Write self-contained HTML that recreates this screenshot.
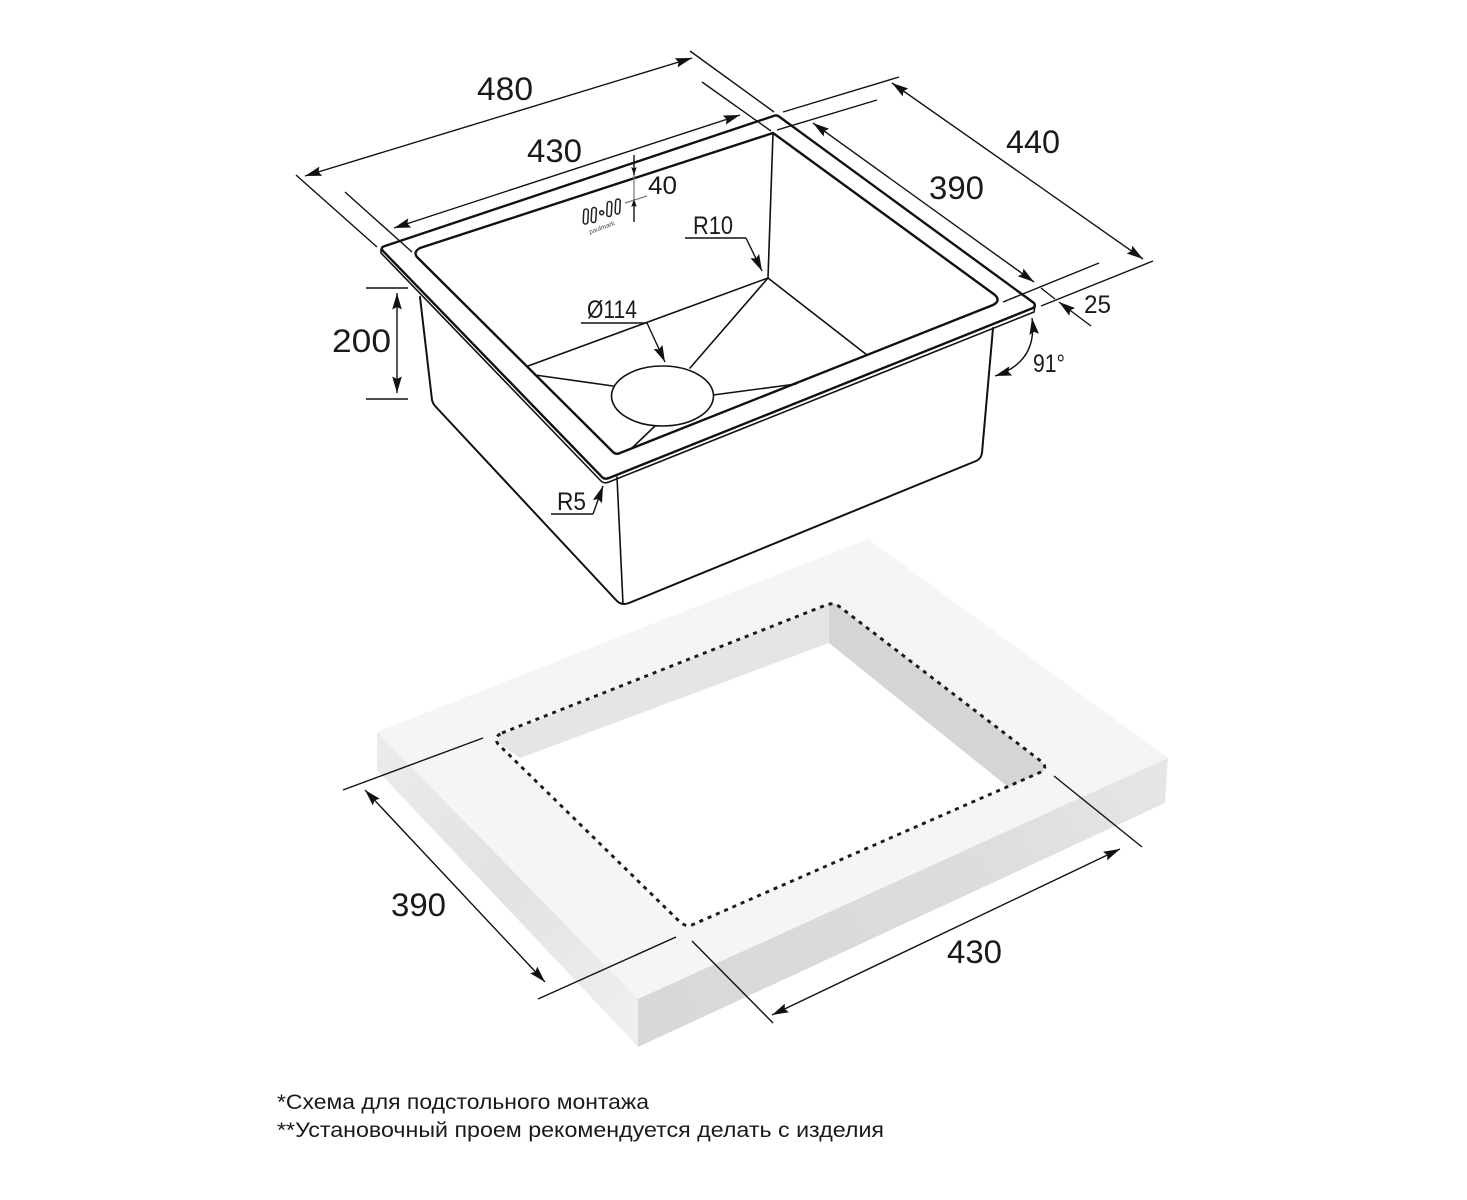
<!DOCTYPE html>
<html lang="ru">
<head>
<meta charset="utf-8">
<title>Sink diagram</title>
<style>
html,body{margin:0;padding:0;background:#fff;}
svg{display:block;}
text{font-family:"Liberation Sans","DejaVu Sans",sans-serif;fill:#1a1a1a;}
.big{font-size:32.5px;}
.mid{font-size:25px;}
.note{font-size:21px;}
.t{fill:none;stroke:#111;stroke-width:1.4;}
.b{fill:none;stroke:#111;stroke-width:2;stroke-linejoin:round;stroke-linecap:round;}
.r{fill:none;stroke:#111;stroke-width:2.4;stroke-linejoin:round;stroke-linecap:round;}
.m{fill:none;stroke:#111;stroke-width:1.6;stroke-linecap:round;}
.ar{marker-start:url(#a);marker-end:url(#a);}
.ae{marker-end:url(#a);}
.se{marker-end:url(#s);}
</style>
</head>
<body>
<svg width="1467" height="1200" viewBox="0 0 1467 1200" xmlns="http://www.w3.org/2000/svg">
<defs>
<marker id="a" markerUnits="userSpaceOnUse" viewBox="-18 -6 19 12" markerWidth="19" markerHeight="12" refX="0" refY="0" orient="auto-start-reverse"><path d="M0,0 L-16.5,-4.8 L-14,0 L-16.5,4.8 Z" fill="#111"/></marker>
<marker id="s" markerUnits="userSpaceOnUse" viewBox="-9 -4 10 8" markerWidth="10" markerHeight="8" refX="0" refY="0" orient="auto"><path d="M0,0 L-8,-2.8 L-6.5,0 L-8,2.8 Z" fill="#111"/></marker>
<linearGradient id="gf" gradientUnits="userSpaceOnUse" x1="638" y1="1020" x2="1168" y2="780"><stop offset="0" stop-color="#d8d8d8"/><stop offset="0.6" stop-color="#dcdcdc"/><stop offset="1" stop-color="#e6e6e6"/></linearGradient>
<linearGradient id="gl" gradientUnits="userSpaceOnUse" x1="377" y1="750" x2="638" y2="1020"><stop offset="0" stop-color="#ebebeb"/><stop offset="0.5" stop-color="#e2e2e2"/><stop offset="1" stop-color="#efefef"/></linearGradient>
</defs>

<!-- countertop -->
<polygon points="868,539 1168,758 638,999 377,732" fill="#f5f5f5"/>
<polygon points="377,732 638,999 638,1047 377,770" fill="url(#gl)"/>
<polygon points="638,999 1168,758 1165,803 638,1047" fill="url(#gf)"/>
<path d="M502,733 L826,605 Q833,602 840,607 L1042,762 Q1048,768 1041,772 L694,924 Q687,928 680,922 L498,744 Q493,737 502,733 Z" fill="#fff"/>
<polygon points="500,735 829,604 829,643 520,758 497,742" fill="#e5e5e5"/>
<polygon points="829,604 836,604 1044,764 1044,771 1008,787 829,643" fill="#d5d5d5"/>
<path d="M502,733 L826,605 Q833,602 840,607 L1042,762 Q1048,768 1041,772 L694,924 Q687,928 680,922 L498,744 Q493,737 502,733 Z" fill="none" stroke="#1a1a1a" stroke-width="2.9" stroke-dasharray="4 5"/>

<!-- sink body -->
<path class="b" d="M420,297 L432,400 Q433,404 436,407 L616,600 Q621,606 629,603 L976,461 Q981,459 982,453 L993,328"/>
<path class="m" d="M617,477 L623,604"/>

<!-- rim -->
<path class="r" d="M385,246 L775,115.5 Q777,115 779,116.5 L1034,303 Q1036,306 1033,308 L609,478 Q604,480 601,476 L383,251 Q380,247 385,246 Z"/>
<path class="m" d="M381,249 L381,253 L601,481 Q604,484 609,482 L1034,312 L1035,306"/>
<path class="r" d="M420,248 L773,133 L995,295 Q1001,301 993,305 L620,453 Q616,455 613,452 L417,257 Q413,252 420,248 Z" stroke-width="2.2"/>

<!-- bowl -->
<path class="m" d="M773,133 L768,278 L867,355"/>
<path class="m" d="M768,278 L528,366"/>
<path class="m" d="M768,278 L690,368"/>
<path class="m" d="M535,375 L613,386"/>
<path class="m" d="M713,395 L796,384"/>
<path class="m" d="M655,426 L632,448"/>
<ellipse cx="662.5" cy="396" rx="51" ry="30" fill="#fff" stroke="#111" stroke-width="1.6"/>

<!-- logo -->
<g fill="none" stroke="#222" stroke-width="1.5">
<rect x="583.5" y="209" width="4.6" height="15" rx="2.3" transform="rotate(3 585.8 216.5)"/>
<rect x="591.5" y="207.5" width="4.6" height="15" rx="2.3" transform="rotate(3 593.8 215)"/>
<circle cx="601.7" cy="212.7" r="2"/>
<rect x="607" y="201.5" width="4.6" height="15" rx="2.3" transform="rotate(3 609.3 209)"/>
<rect x="615.4" y="199" width="4.6" height="15" rx="2.3" transform="rotate(3 617.7 206.5)"/>
</g>
<text x="602.5" y="229.5" text-anchor="middle" transform="rotate(-20 602.5 229.5)" style="font-size:6.5px;fill:#444">paulmark</text>

<!-- dimensions top -->
<line class="t" x1="296" y1="175" x2="377" y2="247"/>
<line class="t" x1="690" y1="51" x2="774" y2="112"/>
<line class="t ar" x1="305" y1="176" x2="692" y2="58"/>
<line class="t" x1="345" y1="192" x2="412" y2="252"/>
<line class="t" x1="702" y1="82" x2="771" y2="131"/>
<line class="t ar" x1="394" y1="228" x2="740" y2="115"/>
<line class="t" x1="783" y1="112" x2="899" y2="77"/>
<line class="t" x1="1041" y1="306" x2="1153" y2="261"/>
<line class="t ar" x1="892" y1="83" x2="1143" y2="259"/>
<line class="t" x1="777" y1="130" x2="877" y2="100"/>
<line class="t" x1="1003" y1="302" x2="1099" y2="263"/>
<line class="t ar" x1="813" y1="123" x2="1034" y2="282"/>
<line class="t" x1="1041" y1="288" x2="1055" y2="299"/>
<line class="t ae" x1="1091" y1="326" x2="1059" y2="302"/>
<path class="t ar" d="M1032,318 Q1038,362 995,376"/>
<path class="t" d="M685,238 L746,238"/>
<path class="t ae" d="M746,238 L762,271"/>
<path class="t" d="M581,323 L647,323"/>
<path class="t ae" d="M647,323 L665,362"/>
<path class="t" d="M551,514 L593,514"/>
<path class="t ae" d="M593,514 L603,486"/>
<line class="t" x1="366" y1="288" x2="408" y2="288"/>
<line class="t" x1="366" y1="399" x2="408" y2="399"/>
<line class="t ar" x1="397" y1="293" x2="397" y2="393"/>

<!-- 40 -->
<line class="t se" x1="634" y1="155" x2="634" y2="175"/>
<line x1="634" y1="175" x2="634" y2="199" stroke="#777" stroke-width="1.2"/>
<line class="t se" x1="634" y1="222" x2="634" y2="199"/>
<line x1="625" y1="203" x2="647" y2="196" stroke="#777" stroke-width="1.2"/>

<!-- dimensions bottom -->
<line class="t" x1="343" y1="790" x2="483" y2="738"/>
<line class="t" x1="538" y1="999" x2="676" y2="937"/>
<line class="t ar" x1="365" y1="790" x2="545" y2="982"/>
<line class="t" x1="1054" y1="776" x2="1142" y2="847"/>
<line class="t" x1="692" y1="941" x2="773" y2="1023"/>
<line class="t ar" x1="772" y1="1015" x2="1120" y2="849"/>

<!-- labels -->
<text class="big" x="477" y="100" textLength="56" lengthAdjust="spacingAndGlyphs">480</text>
<text class="big" x="527" y="162" textLength="55" lengthAdjust="spacingAndGlyphs">430</text>
<text class="big" x="1006" y="153" textLength="54" lengthAdjust="spacingAndGlyphs">440</text>
<text class="big" x="929" y="199" textLength="55" lengthAdjust="spacingAndGlyphs">390</text>
<text class="big" x="332" y="352" textLength="59" lengthAdjust="spacingAndGlyphs">200</text>
<text class="big" x="391" y="916" textLength="55" lengthAdjust="spacingAndGlyphs">390</text>
<text class="big" x="947" y="963" textLength="55" lengthAdjust="spacingAndGlyphs">430</text>
<text class="mid" x="648" y="194" textLength="29" lengthAdjust="spacingAndGlyphs">40</text>
<text class="mid" x="693" y="234" textLength="40" lengthAdjust="spacingAndGlyphs">R10</text>
<text class="mid" x="587" y="318" textLength="50" lengthAdjust="spacingAndGlyphs">Ø114</text>
<text class="mid" x="557" y="510" textLength="29" lengthAdjust="spacingAndGlyphs">R5</text>
<text class="mid" x="1084" y="313" textLength="27" lengthAdjust="spacingAndGlyphs">25</text>
<text class="mid" x="1033" y="372" textLength="32" lengthAdjust="spacingAndGlyphs">91°</text>

<text class="note" x="277" y="1109" textLength="372" lengthAdjust="spacingAndGlyphs">*Схема для подстольного монтажа</text>
<text class="note" x="277" y="1137" textLength="607" lengthAdjust="spacingAndGlyphs">**Установочный проем рекомендуется делать с изделия</text>
</svg>
</body>
</html>
